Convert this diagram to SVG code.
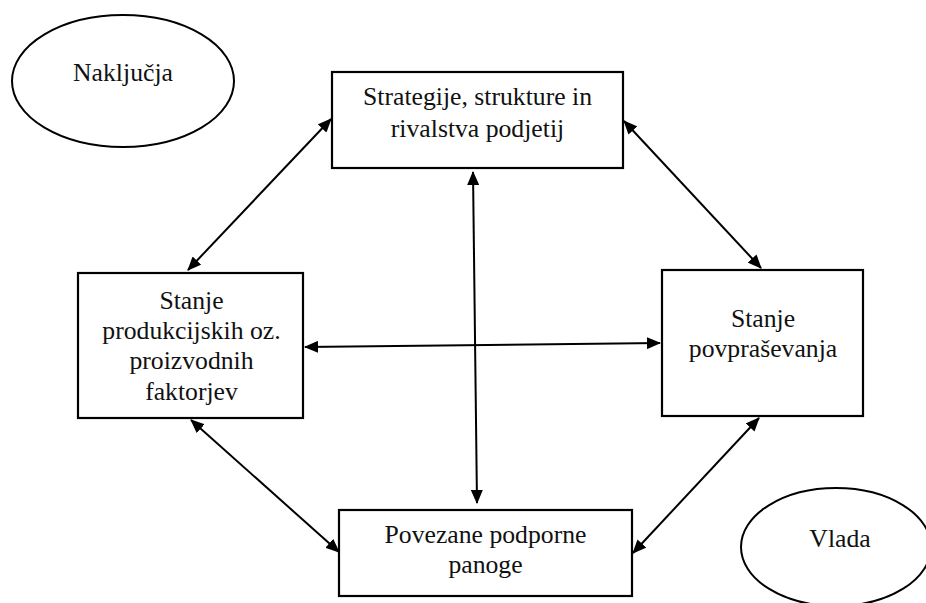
<svg xmlns="http://www.w3.org/2000/svg" width="926" height="603" viewBox="0 0 926 603">
<defs>
<marker id="ah" viewBox="0 0 14 12" refX="13" refY="6" markerWidth="14" markerHeight="12" markerUnits="userSpaceOnUse" orient="auto-start-reverse">
<path d="M0,0 L14,6 L0,12 z" fill="#000"/>
</marker>
<style>
.box{fill:#fff;stroke:#000;stroke-width:2.2}
.oval{fill:#fff;stroke:#000;stroke-width:2}
.lbl{font-size:25.7px;fill:#111;text-anchor:middle}
.con{stroke:#000;stroke-width:2;fill:none;marker-start:url(#ah);marker-end:url(#ah)}
</style>
</defs>
<rect width="926" height="603" fill="#fff"/>
<g id="connectors">
<line class="con" x1="331" y1="119" x2="188" y2="270"/>
<line class="con" x1="624" y1="121" x2="761" y2="268"/>
<line class="con" x1="473" y1="172" x2="477" y2="503"/>
<line class="con" x1="305" y1="347" x2="660" y2="343"/>
<line class="con" x1="191" y1="420" x2="339" y2="552"/>
<line class="con" x1="759" y1="418" x2="633" y2="553"/>
</g>
<g font-family="Liberation Serif, DejaVu Serif, serif">
<g id="nakljucja">
<ellipse class="oval" cx="123" cy="81" rx="111" ry="66"/>
<text class="lbl" x="123" y="81">Naključja</text>
</g>
<g id="strategije">
<rect class="box" x="332" y="72" width="291" height="96"/>
<text class="lbl" x="477.5" y="105">Strategije, strukture in</text>
<text class="lbl" x="477.5" y="136.5">rivalstva podjetij</text>
</g>
<g id="faktorji">
<rect class="box" x="78" y="273" width="225" height="145"/>
<text class="lbl" x="191.5" y="308.5">Stanje</text>
<text class="lbl" x="191.5" y="338.8">produkcijskih oz.</text>
<text class="lbl" x="191.5" y="369.2">proizvodnih</text>
<text class="lbl" x="191.5" y="399.5">faktorjev</text>
</g>
<g id="povprasevanje">
<rect class="box" x="662" y="270" width="201" height="146"/>
<text class="lbl" x="763" y="327">Stanje</text>
<text class="lbl" x="763" y="357">povpraševanja</text>
</g>
<g id="panoge">
<rect class="box" x="339" y="510" width="293" height="86"/>
<text class="lbl" x="485.5" y="542.7">Povezane podporne</text>
<text class="lbl" x="485.5" y="572.7">panoge</text>
</g>
<g id="vlada">
<ellipse class="oval" cx="836" cy="547" rx="95" ry="59"/>
<text class="lbl" x="840" y="547">Vlada</text>
</g>
</g>
</svg>
